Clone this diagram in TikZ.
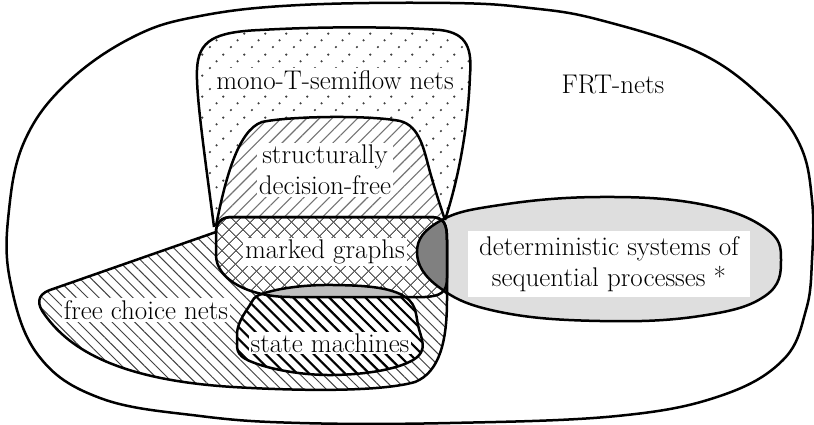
\documentclass[tikz,border=0pt]{standalone}
\usetikzlibrary{patterns.meta}

% Diagonal rows of dots
\tikzdeclarepattern{
  name=dotrows,
  type=uncolored,
  bottom left={(-2pt,-2pt)},
  top right={(19pt,19pt)},
  tile size={(21pt,21pt)},
  code={
    \fill (0pt,0pt) circle (1.3pt);
    \fill (7pt,7pt) circle (1.3pt);
    \fill (14pt,14pt) circle (1.3pt);
  }
}

% Region outlines (units: 1pt, y grows downwards)
\def\frtpath{plot[smooth cycle,tension=0.65] coordinates {(300,5) (450,3) (530,8) (600,20) (700,53) (765,100) (800,145) (812,200) (812,260) (806,310) (783,360) (720,396) (617,416) (450,423) (300,423) (200,416) (100,398) (38,355) (10,280) (9,210) (25,140) (67,83) (133,37) (200,16)}}
\def\monopath{(214,227) .. controls (204,150) and (196,95) .. (197,70) .. controls (198,40) and (215,32) .. (260,30) .. controls (330,26) and (400,27) .. (440,30) .. controls (468,33) and (472,50) .. (470,75) .. controls (468,130) and (458,180) .. (445,220)}
\def\sdfpath{(216,226) .. controls (225,180) and (238,130) .. (262,122) .. controls (290,116) and (370,115) .. (400,121) .. controls (420,126) and (424,150) .. (430,172) .. controls (435,190) and (440,205) .. (445,220)}
\def\mgpath{(232,217) -- (430,217) .. controls (445,217) and (447,225) .. (447,240) -- (447,278) .. controls (447,293) and (440,296) .. (425,297) -- (290,297) .. controls (250,297) and (216,280) .. (216,255) -- (216,232) .. controls (216,222) and (222,217) .. (232,217) -- cycle}
\def\fcpath{(216,232) -- (50,290) .. controls (36,295) and (37,305) .. (45,315) .. controls (70,350) and (120,380) .. (233,387) .. controls (300,391) and (380,392) .. (415,382) .. controls (440,372) and (447,340) .. (447,300) -- (447,240) .. controls (447,225) and (445,217) .. (430,217) -- (232,217) .. controls (222,217) and (216,222) .. (216,232) -- cycle}
\def\smpath{plot[smooth cycle,tension=0.7] coordinates {(268,292) (333,285) (400,294) (418,325) (413,360) (333,375) (252,362) (237,337) (248,308)}}
\def\dssppath{plot[smooth cycle,tension=0.7] coordinates {(417,252) (440,221) (500,205) (600,197) (700,204) (765,228) (781,260) (765,296) (700,316) (600,321) (500,312) (440,288)}}

\begin{document}
\begin{tikzpicture}[x=1pt,y=-1pt,
  outline/.style={draw=black,line width=2.5pt,line join=round},
  lbl/.style={fill=white,inner sep=2pt,align=center,font=\fontsize{27}{31}\selectfont}]
\useasboundingbox (0,0) rectangle (814,425);

% FRT-nets
\fill[white] \frtpath;

% mono-T-semiflow nets
\fill[white] \monopath -- cycle;
\fill[pattern=dotrows,pattern color=black!75] \monopath -- cycle;

% structurally decision-free
\fill[white] \sdfpath -- cycle;
\fill[pattern={Lines[angle=45,distance=9pt,line width=1.1pt]},pattern color=black!55] \sdfpath -- cycle;

% free choice nets
\fill[white] \fcpath;
\fill[pattern={Lines[angle=-45,distance=8pt,line width=1pt]},pattern color=black!75] \fcpath;

% marked graphs (cross hatched)
\fill[white] \mgpath;
\fill[pattern={Lines[angle=45,distance=10.5pt,line width=1pt]},pattern color=black!65] \mgpath;
\fill[pattern={Lines[angle=-45,distance=10.5pt,line width=1pt]},pattern color=black!65] \mgpath;

% state machines
\fill[white] \smpath;
\fill[pattern={Lines[angle=-45,distance=8.5pt,line width=2.2pt]},pattern color=black] \smpath;
\begin{scope}
  \clip \mgpath;
  \fill[black!25] \smpath;
\end{scope}

% deterministic systems of sequential processes
\fill[black!13] \dssppath;
\begin{scope}
  \clip \mgpath;
  \fill[black!50] \dssppath;
\end{scope}

% outlines
\draw[outline] \frtpath;
\draw[outline] \monopath;
\draw[outline] \sdfpath;
\draw[outline] \fcpath;
\draw[outline] \mgpath;
\draw[outline] \smpath;
\draw[outline] \dssppath;

% labels
\node[lbl,fill=none] (frt) at (613,84) {FRT-nets};
\node[lbl] (mono) at (335,80) {mono-T-semiflow nets};
\node[lbl] (sdf) at (325,170) {structurally\\decision-free};
\node[lbl] (mg) at (325,252) {marked graphs};
\node[lbl] (fc) at (146,310) {free choice nets};
\node[lbl] (sm) at (330,343) {state machines};
\node[lbl,inner xsep=11pt,inner ysep=5pt] (dssp) at (609,264) {deterministic systems of\\sequential processes *};
\end{tikzpicture}
\end{document}
